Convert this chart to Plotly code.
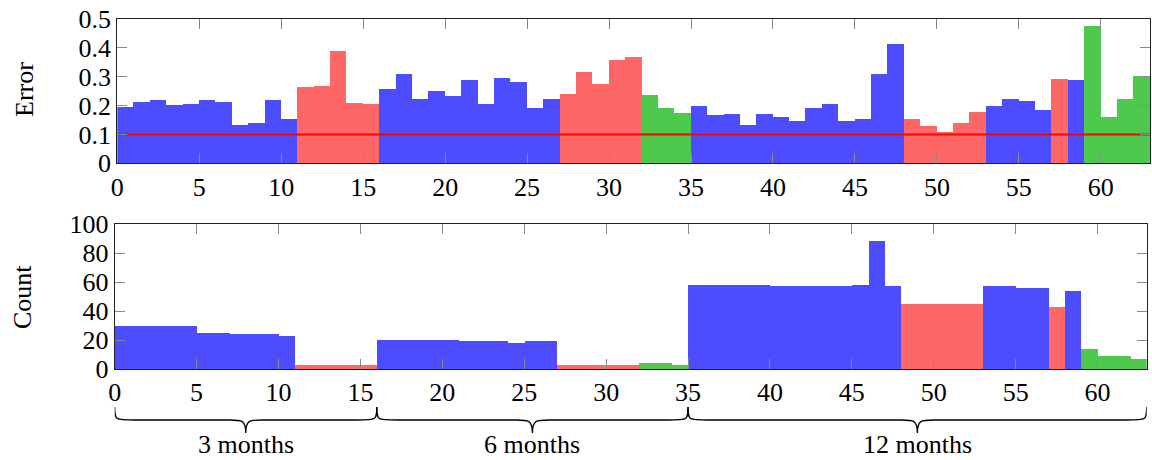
import plotly.graph_objects as go

# ---- data ----
bin_index = list(range(63))
category = ['b', 'b', 'b', 'b', 'b', 'b', 'b', 'b', 'b', 'b', 'b',
            'r', 'r', 'r', 'r', 'r',
            'b', 'b', 'b', 'b', 'b', 'b', 'b', 'b', 'b', 'b', 'b',
            'r', 'r', 'r', 'r', 'r',
            'g', 'g', 'g',
            'b', 'b', 'b', 'b', 'b', 'b', 'b', 'b', 'b', 'b', 'b', 'b', 'b',
            'r', 'r', 'r', 'r', 'r',
            'b', 'b', 'b', 'b',
            'r', 'b',
            'g', 'g', 'g', 'g']
error = [0.194, 0.212, 0.221, 0.203, 0.204, 0.218, 0.211, 0.134, 0.141, 0.221, 0.153,
         0.265, 0.267, 0.388, 0.210, 0.206,
         0.259, 0.310, 0.222, 0.249, 0.232, 0.290, 0.207, 0.297, 0.281, 0.190, 0.222,
         0.241, 0.318, 0.276, 0.357, 0.370,
         0.238, 0.193, 0.176,
         0.197, 0.169, 0.172, 0.134, 0.171, 0.161, 0.148, 0.193, 0.206, 0.146, 0.152, 0.310, 0.412,
         0.155, 0.130, 0.110, 0.138, 0.177,
         0.200, 0.222, 0.217, 0.184,
         0.293, 0.290,
         0.476, 0.159, 0.223, 0.303]
count = [30, 30, 30, 30, 30, 25, 25, 24, 24, 24, 23,
         3, 3, 3, 3, 3,
         20, 20, 20, 20, 20, 19, 19, 19, 18, 19, 19,
         3, 3, 3, 3, 3,
         4, 4, 3,
         58, 58, 58, 58, 58, 57, 57, 57, 57, 57, 58, 88, 57,
         45, 45, 45, 45, 45,
         57, 57, 56, 56,
         43, 54,
         14, 9, 9, 7]
threshold = 0.1
group_bounds = [0, 16, 35, 63]
group_labels = ["3 months", "6 months", "12 months"]

# ---- styles / layout helpers ----
palette = {'b': '#4d4dff', 'r': '#ff6666', 'g': '#4dc94d'}
FONT = "Liberation Serif"
W, H = 1152, 460


def px(xw):   # window x pixel -> paper fraction
    return xw / W


def py(yw):   # window y pixel -> paper fraction
    return 1 - yw / H


colors = [palette[c] for c in category]
centers = [i + 0.5 for i in bin_index]
nmax = len(bin_index)

fig = go.Figure()
fig.add_trace(go.Bar(x=centers, y=error, width=1, marker=dict(color=colors, line=dict(width=0)),
                     xaxis='x', yaxis='y', showlegend=False))
fig.add_trace(go.Scatter(x=[0, nmax], y=[threshold, threshold], mode='lines', cliponaxis=False,
                         line=dict(color='#ff0000', width=2), xaxis='x', yaxis='y', showlegend=False))
fig.add_trace(go.Bar(x=centers, y=count, width=1, marker=dict(color=colors, line=dict(width=0)),
                     xaxis='x2', yaxis='y2', showlegend=False))

top_x = [px(117.3), px(1150)]
bot_x = [px(114.7), px(1146.7)]
top_y = [py(163.3), py(19)]
bot_y = [py(369), py(224)]

axis_common = dict(showline=True, linecolor='#222222', linewidth=1.2, mirror='ticks',
                   ticks='inside', ticklen=10, tickcolor='#8a8a8a', tickwidth=1,
                   showgrid=False, zeroline=False, layer='above traces', automargin=False,
                   ticklabeloverflow='allow',
                   tickfont=dict(family=FONT, size=26, color='black'))

fig.update_layout(
    width=W, height=H, margin=dict(l=0, r=0, t=0, b=0, pad=0),
    paper_bgcolor='white', plot_bgcolor='white', bargap=0,
    xaxis=dict(domain=top_x, range=[0, nmax], tickmode='linear', tick0=0, dtick=5,
               anchor='y', **axis_common),
    yaxis=dict(domain=top_y, range=[0, 0.5], tickmode='linear', tick0=0, dtick=0.1,
               anchor='x', **axis_common),
    xaxis2=dict(domain=bot_x, range=[0, nmax], tickmode='linear', tick0=0, dtick=5,
                anchor='y2', **axis_common),
    yaxis2=dict(domain=bot_y, range=[0, 100], tickmode='linear', tick0=0, dtick=20,
                anchor='x2', **axis_common),
)

# y-axis titles
fig.add_annotation(text="Error", x=px(25), y=py(90), xref='paper', yref='paper',
                   xanchor='center', yanchor='middle',
                   textangle=-90, showarrow=False, font=dict(family=FONT, size=26, color='black'))
fig.add_annotation(text="Count", x=px(22), y=py(297), xref='paper', yref='paper',
                   xanchor='center', yanchor='middle',
                   textangle=-90, showarrow=False, font=dict(family=FONT, size=26, color='black'))

# braces under the bottom axis
px_per_unit = (bot_x[1] - bot_x[0]) * W / nmax
end_dx = 20 / px_per_unit
tip_dx = 16 / px_per_unit
y0, y1, y2 = py(407), py(420), py(433)
for a, b, lab in zip(group_bounds[:-1], group_bounds[1:], group_labels):
    m = (a + b) / 2
    path = (f"M {a},{y0} C {a},{y1} {a},{y1} {a + end_dx},{y1} "
            f"L {m - tip_dx},{y1} C {m - tip_dx * 0.25},{y1} {m},{y1} {m},{y2} "
            f"C {m},{y1} {m + tip_dx * 0.25},{y1} {m + tip_dx},{y1} "
            f"L {b - end_dx},{y1} C {b},{y1} {b},{y1} {b},{y0}")
    fig.add_shape(type='path', path=path, xref='x2', yref='paper',
                  line=dict(color='black', width=1.3))
    fig.add_annotation(text=lab, x=m, y=py(444), xref='x2', yref='paper', showarrow=False,
                       xanchor='center', yanchor='middle',
                       font=dict(family=FONT, size=26, color='black'))

fig.write_html("out.html", config={'displayModeBar': False},
               post_script="document.body.style.margin='0px';")
